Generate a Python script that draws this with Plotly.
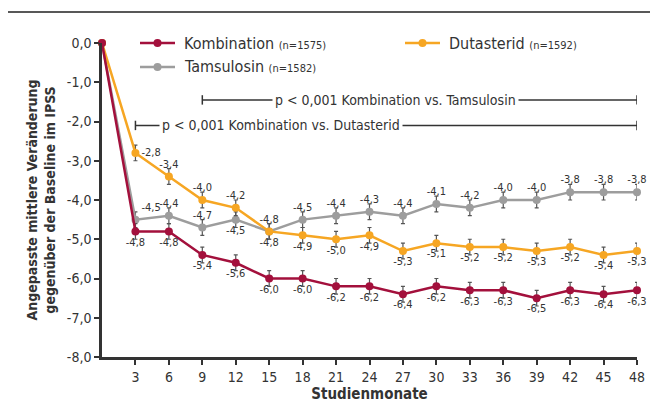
import plotly.graph_objects as go

months = [0, 3, 6, 9, 12, 15, 18, 21, 24, 27, 30, 33, 36, 39, 42, 45, 48]
kombination = [0.0, -4.8, -4.8, -5.4, -5.6, -6.0, -6.0, -6.2, -6.2, -6.4, -6.2, -6.3, -6.3, -6.5, -6.3, -6.4, -6.3]
dutasterid = [0.0, -2.8, -3.4, -4.0, -4.2, -4.8, -4.9, -5.0, -4.9, -5.3, -5.1, -5.2, -5.2, -5.3, -5.2, -5.4, -5.3]
tamsulosin = [0.0, -4.5, -4.4, -4.7, -4.5, -4.8, -4.5, -4.4, -4.3, -4.4, -4.1, -4.2, -4.0, -4.0, -3.8, -3.8, -3.8]
err = [0.0] + [0.2] * 16

x_ticks = [3, 6, 9, 12, 15, 18, 21, 24, 27, 30, 33, 36, 39, 42, 45, 48]
y_ticks = [0, -1, -2, -3, -4, -5, -6, -7, -8]
y_tick_labels = ["0,0", "-1,0", "-2,0", "-3,0", "-4,0", "-5,0", "-6,0", "-7,0", "-8,0"]

series_names = ["Kombination", "Dutasterid", "Tamsulosin"]
series_n = ["1575", "1592", "1582"]

C_K = "#A3103C"
C_D = "#F6A623"
C_T = "#9D9D9D"
FONT = "Liberation Sans Narrow, DejaVu Sans Condensed, Arial Narrow, sans-serif"
TXT = "#333333"

pos_k = ["bottom center"] * 17
pos_d = ["top center", "middle right", "top center", "top center", "top center"] + ["bottom center"] * 12
pos_t = ["top center", "top right", "top center", "top center", "bottom center"] + ["top center"] * 12

def fmt(v):
    return ("%.1f" % v).replace(".", ",")

fig = go.Figure()
for vals, col, pos in [(tamsulosin, C_T, pos_t), (dutasterid, C_D, pos_d), (kombination, C_K, pos_k)]:
    labels = [""] + [fmt(v) for v in vals[1:]]
    fig.add_trace(go.Scatter(
        x=months, y=vals, mode="lines+markers+text",
        line=dict(color=col, width=2.5),
        marker=dict(color=col, size=8),
        error_y=dict(type="data", array=err, color="#555555", thickness=1.2, width=2),
        text=labels, textposition=pos,
        textfont=dict(family=FONT, size=11, color=TXT),
        cliponaxis=False, showlegend=False,
    ))

# plot area: 535 x 314 px
fig.update_layout(
    width=650, height=407,
    margin=dict(l=94, r=21, t=35, b=58),
    paper_bgcolor="white", plot_bgcolor="white",
    font=dict(family=FONT, color=TXT, size=13),
    xaxis=dict(range=[0, 48], tickvals=x_ticks, ticks="outside", ticklen=5, tickwidth=2,
               tickcolor="#333", showline=True, linecolor="#333", linewidth=2.5,
               showgrid=False, zeroline=False, tickfont=dict(size=14), automargin=False,
               title=dict(text="<b>Studienmonate</b>", font=dict(size=15), standoff=4)),
    yaxis=dict(range=[-8, 0], tickvals=y_ticks, ticktext=y_tick_labels, ticks="outside", ticklen=5,
               tickwidth=2, tickcolor="#333", showline=True, linecolor="#333", linewidth=2.5,
               showgrid=False, zeroline=False, tickfont=dict(size=14), automargin=False,
               title=dict(text="<b>Angepasste mittlere Veränderung<br>gegenüber der Baseline im IPSS</b>",
                          font=dict(size=14), standoff=8)),
)

W, H = 535, 314
shapes = []
annotations = []
# outer frame
shapes.append(dict(type="rect", xref="paper", yref="paper", x0=-95/W, x1=1.2, y0=-0.4, y1=(314+31)/H,
                   line=dict(color="#222", width=1.5), layer="below"))

# legend (px relative to plot-area top-left)
def legend_item(px, py, col, name, n):
    x0 = px / W
    x1 = (px + 35) / W
    y = 1 - py / H
    shapes.append(dict(type="line", xref="paper", yref="paper", x0=x0, x1=x1, y0=y, y1=y,
                       line=dict(color=col, width=2.5)))
    xm = (px + 17.5) / W
    shapes.append(dict(type="circle", xref="paper", yref="paper",
                       x0=xm - 4/W, x1=xm + 4/W, y0=y - 4/H, y1=y + 4/H,
                       fillcolor=col, line=dict(color=col, width=0)))
    annotations.append(dict(xref="paper", yref="paper", x=(px + 42) / W, y=y,
                            xanchor="left", yanchor="middle", showarrow=False,
                            text=f"{name} <span style='font-size:11px'>(n={n})</span>",
                            font=dict(size=16, color=TXT)))

legend_item(38, 0, C_K, series_names[0], series_n[0])
legend_item(303, 0, C_D, series_names[1], series_n[1])
legend_item(38, 24, C_T, series_names[2], series_n[2])

# significance brackets
def bracket(xs, xe, yv, text, xt):
    shapes.append(dict(type="line", xref="x", yref="y", x0=xs, x1=xe, y0=yv, y1=yv,
                       line=dict(color="#333", width=1.5)))
    for xx in (xs, xe):
        shapes.append(dict(type="line", xref="x", yref="y", x0=xx, x1=xx, y0=yv - 0.12, y1=yv + 0.12,
                           line=dict(color="#333", width=1.5)))
    annotations.append(dict(xref="x", yref="y", x=xt, y=yv, text=text, showarrow=False,
                            bgcolor="white", borderpad=2, font=dict(size=14, color=TXT),
                            xanchor="center", yanchor="middle"))

bracket(9, 48, -1.45, "p &lt; 0,001 Kombination vs. Tamsulosin", 26.3)
bracket(3, 48, -2.1, "p &lt; 0,001 Kombination vs. Dutasterid", 16.1)

fig.update_layout(shapes=shapes, annotations=annotations)
fig.write_html("out.html")
